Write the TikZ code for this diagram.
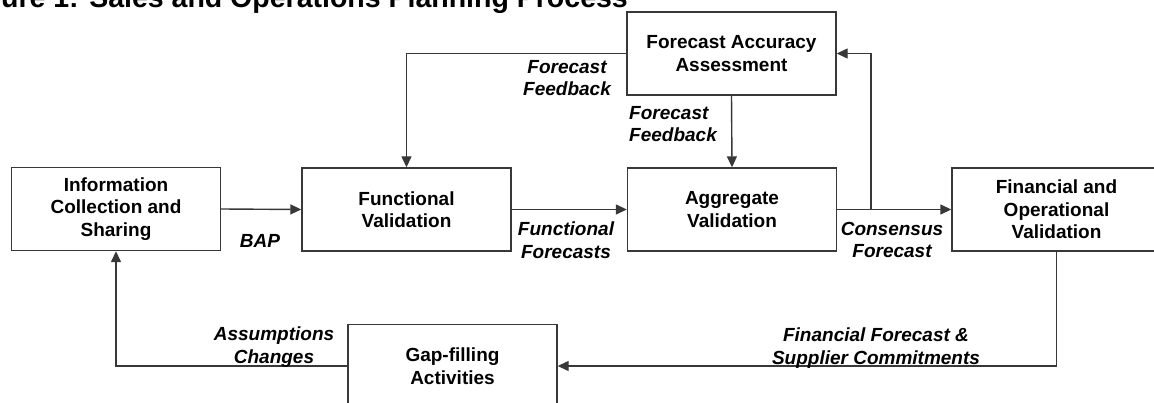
\documentclass[tikz,border=0pt]{standalone}
\usepackage{fontspec}
\setmainfont{Liberation Sans}
\usetikzlibrary{arrows.meta}
\tikzset{
  boxnode/.style={draw=black!78, line width=1.4pt, minimum width=209pt, minimum height=83pt,
    align=center, inner sep=2pt, font=\fontsize{19}{22.5}\selectfont\bfseries},
  lbl/.style={align=center, inner sep=0pt, font=\fontsize{19}{22.5}\selectfont\bfseries\itshape},
  conn/.style={draw=black!78, line width=1.4pt},
  arr/.style={conn, -{Triangle[length=11pt,width=10pt]}},
}
\begin{document}
\begin{tikzpicture}[x=1pt,y=-1pt]
\useasboundingbox (0,0) rectangle (1154,403);
\clip (0,0) rectangle (1154,403);
% title (cut off at top and left in the reference)
\node[anchor=base east, inner sep=0pt, font=\fontsize{28.5}{30}\selectfont\bfseries] (title) at (628,7.5) {Figure 1: Sales and Operations Planning Process};
% boxes
\node[boxnode] (info) at (116,209) {Information\\Collection and\\Sharing};
\node[boxnode] (func) at (406.5,209.5) {Functional\\Validation};
\node[boxnode] (agg) at (732,209.5) {Aggregate\\Validation};
\node[boxnode] (fin) at (1056.5,209.5) {Financial and\\Operational\\Validation};
\node[boxnode] (acc) at (731.5,53.5) {Forecast Accuracy\\Assessment};
\node[boxnode] (gap) at (452.5,366) {Gap-filling\\Activities};
% connectors
\draw[arr] (info.east) -- (func.west);
\draw[arr] (func.east) -- (agg.west);
\draw[arr] (agg.east) -- (fin.west);
\draw[arr] (acc.south) -- (agg.north);
\draw[arr] (acc.west) -| (func.north);
\coordinate (j) at (871,209.5);
\draw[arr] (j) |- (acc.east);
\draw[arr] (fin.south) |- (gap.east);
\draw[arr] (gap.west) -| (info.south);
% labels
\node[lbl] (l1) at (260,241) {BAP};
\node[lbl] (l2) at (566,240) {Functional\\Forecasts};
\node[lbl] (l3) at (892,240) {Consensus\\Forecast};
\node[lbl] (l4) at (567,78) {Forecast\\Feedback};
\node[lbl, align=left, anchor=west] (l5) at (629,124) {Forecast\\Feedback};
\node[lbl] (l6) at (274,347) {Assumptions\\Changes};
\node[lbl] (l7) at (876,348) {Financial Forecast \&\\Supplier Commitments};
\end{tikzpicture}
\end{document}
